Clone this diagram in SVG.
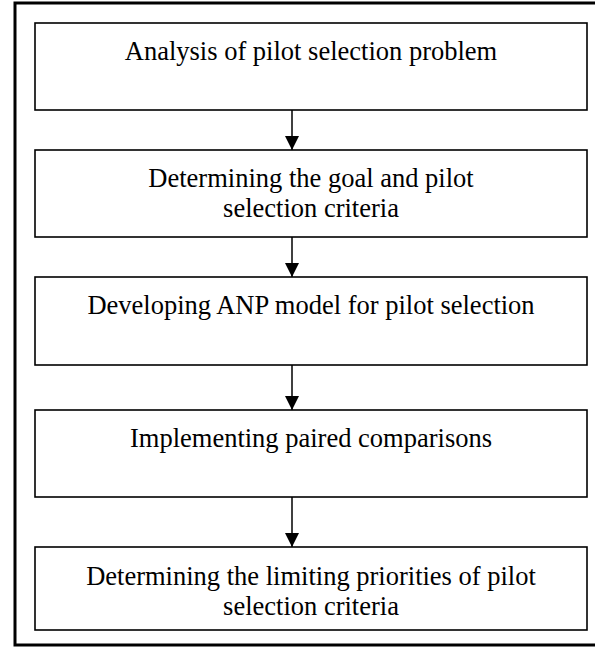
<svg xmlns="http://www.w3.org/2000/svg" width="595" height="649" viewBox="0 0 595 649">
  <style>
    .frame { fill: none; stroke: #000; stroke-width: 3; }
    .box { fill: #fff; stroke: #000; stroke-width: 1.6; }
    .label { font-family: "Liberation Serif", "Times New Roman", serif; font-size: 26.5px; fill: #000; text-anchor: middle; }
    .link { stroke: #000; stroke-width: 1.5; fill: none; marker-end: url(#arrow); }
  </style>
  <defs>
    <marker id="arrow" viewBox="0 0 14 14" refX="14" refY="7" markerWidth="14" markerHeight="14" markerUnits="userSpaceOnUse" orient="auto">
      <path d="M0,0 L14,7 L0,14 Z" fill="#000"/>
    </marker>
  </defs>

  <!-- outer border, right side runs past the page edge -->
  <rect class="frame" x="15" y="3" width="590" height="642"/>

  <g id="step1">
    <rect class="box" x="35" y="23" width="552" height="87"/>
    <text class="label" x="311" y="60">Analysis of pilot selection problem</text>
  </g>

  <g id="step2">
    <rect class="box" x="35" y="150" width="552" height="87"/>
    <text class="label" x="311" y="187">Determining the goal and pilot</text>
    <text class="label" x="311" y="217">selection criteria</text>
  </g>

  <g id="step3">
    <rect class="box" x="35" y="277" width="552" height="88"/>
    <text class="label" x="311" y="314">Developing ANP model for pilot selection</text>
  </g>

  <g id="step4">
    <rect class="box" x="35" y="410" width="552" height="87"/>
    <text class="label" x="311" y="447">Implementing paired comparisons</text>
  </g>

  <g id="step5">
    <rect class="box" x="35" y="547" width="552" height="83"/>
    <text class="label" x="311" y="585">Determining the limiting priorities of pilot</text>
    <text class="label" x="311" y="615">selection criteria</text>
  </g>

  <g id="connectors">
    <line class="link" x1="292" y1="110" x2="292" y2="150"/>
    <line class="link" x1="292" y1="237" x2="292" y2="277"/>
    <line class="link" x1="292" y1="365" x2="292" y2="410"/>
    <line class="link" x1="292" y1="497" x2="292" y2="547"/>
  </g>
</svg>
